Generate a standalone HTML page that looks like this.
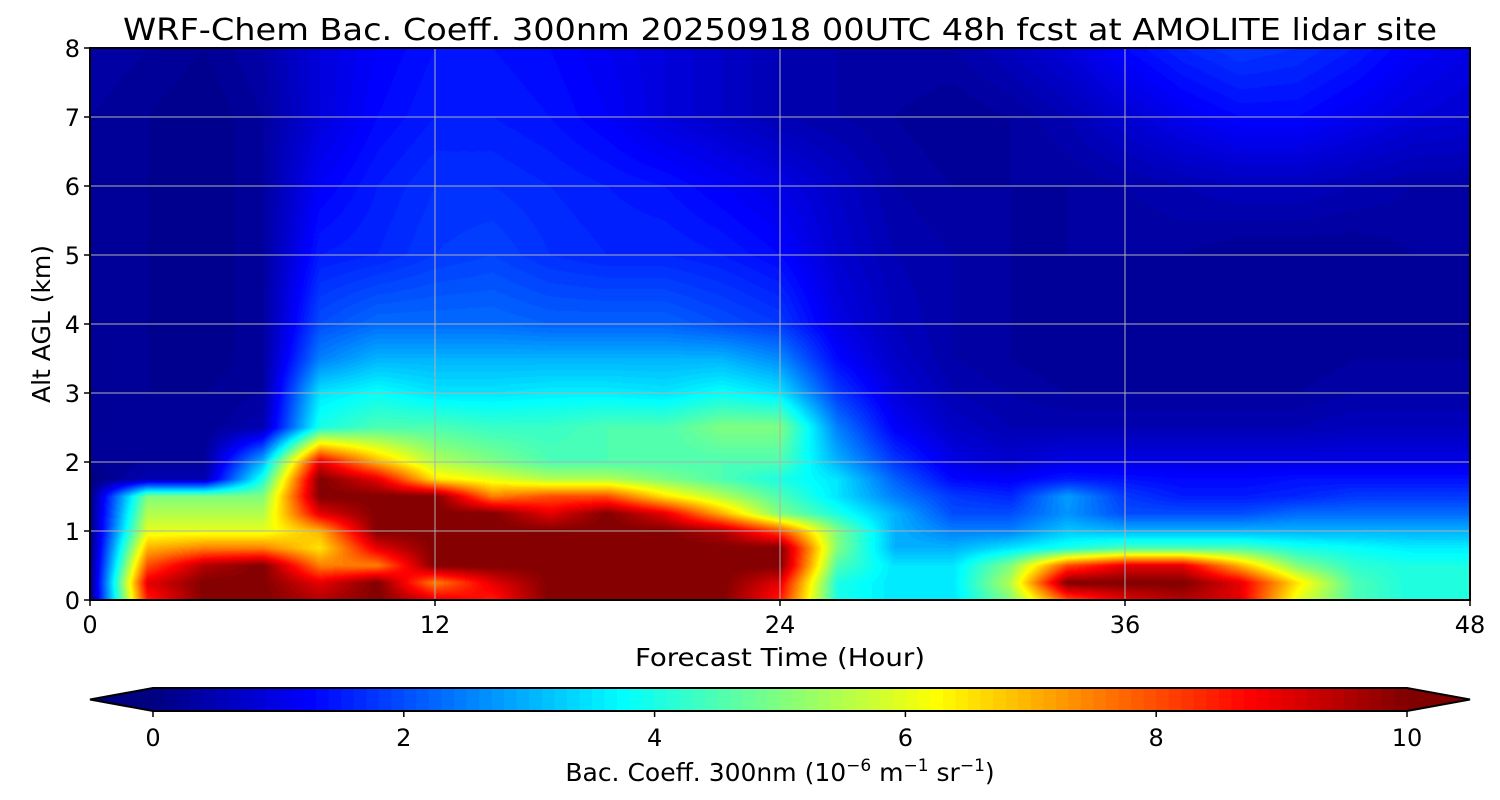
<!DOCTYPE html>
<html><head><meta charset="utf-8"><style>
body{margin:0;background:#fff;width:1500px;height:800px;overflow:hidden;font-family:"DejaVu Sans","Liberation Sans",sans-serif}
#wrap{position:relative;width:1500px;height:800px}
canvas{position:absolute;left:90px;top:48px}
svg{position:absolute;left:0;top:0}
</style></head><body><div id="wrap">
<canvas id="hm" width="1380" height="552"></canvas>
<svg id="ov" width="1500" height="800"></svg>
</div>
<script>
const hours=[0,2,4,6,8,10,12,14,16,18,20,22,24,26,28,30,32,34,36,38,40,42,44,46,48];
const alts=[0,0.25,0.5,0.75,1,1.25,1.5,1.75,2,2.5,3,3.5,4,5,6,7,8];
const values=[
[0,8.5,10,10,9.5,10,9,8.5,10,10,10,10,8.5,4,3.5,3.5,5,8,9,9.5,9,6,4.5,4,4],
[0,9,10,10,9,10,7.5,9,10,10,10,10,9,4,3.5,3.5,5.5,10,10,10,9,6.5,4.5,4,4],
[0,8,9.5,10,7.5,7.5,10,10,10,10,10,10,10,4.5,3.5,3.5,5,8,9,9,7,5,4.2,4,4],
[0,7,7.5,7.5,6.5,9,10,10,10,10,10,10,10,5,3,3,3.5,4,4.5,4.5,4.5,4,3.8,3.6,3.6],
[0,6,6,6,7,10,10,10,10,10,10,9.5,8,5,3,2.5,2.5,3.2,3,3,3,3,3,3,3],
[0,5.5,5.5,5.5,9,10,10,10,9,10,9,7,5,4,3,2,2,2.7,2,2,2,2.3,2.3,2.3,2.3],
[0,5,5,5,10,10,10,7.5,8,8,6.5,5.5,4.5,3.5,2.5,1.8,1.6,2.8,1.8,1.5,1.5,1.6,1.8,1.8,1.8],
[0,0.5,0.5,4,10,9,6.5,6,5.5,5.5,5,4.5,4,3.5,2.2,1.3,1.2,1.5,1.4,1.3,1.3,1.4,1.4,1.4,1.4],
[0.2,0.3,0.3,3,9,7,5.5,5,4.5,4.5,4.5,4.5,4.5,3,1.8,1,0.8,1,1,1,1,1,1,1,1],
[0.2,0.2,0.2,0.5,4,4.5,4.5,4.3,4.3,4.5,4.5,5,5,2.5,1.2,0.7,0.5,0.5,0.5,0.5,0.5,0.5,0.6,0.6,0.6],
[0.2,0.2,0.2,0.3,3.5,3.8,3.5,3.5,3.6,3.6,3.5,3.8,3.5,1.8,0.9,0.5,0.4,0.3,0.3,0.3,0.3,0.3,0.4,0.4,0.4],
[0.2,0.2,0.1,0.3,2.5,3,3,3,3,3,3,3,2.6,1.3,0.7,0.4,0.3,0.2,0.2,0.2,0.2,0.2,0.3,0.3,0.3],
[0.2,0.2,0.1,0.3,2,2.3,2.3,2.3,2.2,2.2,2.2,2,1.8,1,0.6,0.4,0.3,0.2,0.2,0.2,0.2,0.2,0.2,0.3,0.3],
[0.3,0.2,0.1,0.3,1.5,1.6,1.8,1.9,1.7,1.6,1.6,1.5,1.3,0.8,0.5,0.4,0.3,0.3,0.3,0.3,0.2,0.2,0.2,0.3,0.3],
[0.3,0.2,0.1,0.3,1.2,1.5,1.7,1.7,1.6,1.5,1.4,1.2,1,0.7,0.4,0.3,0.3,0.3,0.4,0.5,0.6,0.6,0.5,0.4,0.4],
[0.3,0.2,0.1,0.3,0.9,1.3,1.5,1.5,1.4,1.2,0.9,0.7,0.5,0.4,0.3,0.2,0.3,0.5,0.8,1.1,1.3,1.3,1.1,0.9,0.8],
[0.4,0.3,0.2,0.4,0.9,1.2,1.4,1.4,1.3,1.1,0.9,0.7,0.5,0.4,0.4,0.4,0.6,0.9,1.3,1.6,1.8,1.7,1.5,1.2,1]];
const xTicks=[0,12,24,36,48];
const yTicks=[0,1,2,3,4,5,6,7,8];
const cbTicks=[0,2,4,6,8,10];

const PX=90,PY=48,PW=1380,PH=552;
const xs=h=>PX+h/48*PW, ys=a=>PY+PH-a/8*PH;
function jet(t){t=Math.max(0,Math.min(1,t));const c=x=>Math.round(255*Math.max(0,Math.min(1,x)));
return [c(1.5-Math.abs(4*t-3)),c(1.5-Math.abs(4*t-2)),c(1.5-Math.abs(4*t-1))];}
function seg(arr,v){let i=0;while(i<arr.length-2&&v>arr[i+1])i++;return [i,(v-arr[i])/(arr[i+1]-arr[i])];}
const ctx=document.getElementById('hm').getContext('2d');
const img=ctx.createImageData(PW,PH);
for(let py=0;py<PH;py++){const a=(PH-py-0.5)/PH*8;const [j,fy]=seg(alts,a);
 for(let px=0;px<PW;px++){const h=(px+0.5)/PW*48;const [i,fx]=seg(hours,h);
  const v=(values[j][i]*(1-fx)+values[j][i+1]*fx)*(1-fy)+(values[j+1][i]*(1-fx)+values[j+1][i+1]*fx)*fy;
  const q=Math.floor(Math.min(v,9.999)/0.1)*0.1+0.05;const col=jet(q/10);
  const k=(py*PW+px)*4;img.data[k]=col[0];img.data[k+1]=col[1];img.data[k+2]=col[2];img.data[k+3]=255;}}
ctx.putImageData(img,0,0);
const svg=document.getElementById('ov');const NS='http://www.w3.org/2000/svg';
function mk(t,at,parent){const e=document.createElementNS(NS,t);for(const k in at)e.setAttribute(k,at[k]);(parent||svg).appendChild(e);return e;}
xTicks.forEach(h=>{const x=xs(h);
 const g=mk('line',{x1:x,x2:x,y1:PY,y2:PY+PH,stroke:'#b0b0b0','stroke-width':1});
 
 mk('line',{x1:x,x2:x,y1:PY+PH,y2:PY+PH+6,stroke:'#000','stroke-width':1.5});
 const t=mk('text',{x:x,y:633,'text-anchor':'middle','font-size':24});t.textContent=h;
 });
yTicks.forEach(a=>{const y=ys(a);
 const g=mk('line',{x1:PX,x2:PX+PW,y1:y,y2:y,stroke:'#b0b0b0','stroke-width':1});
 
 mk('line',{x1:PX-6,x2:PX,y1:y,y2:y,stroke:'#000','stroke-width':1.5});
 const t=mk('text',{x:80,y:y+9,'text-anchor':'end','font-size':24});t.textContent=a;
 });
mk('rect',{x:PX,y:PY,width:PW,height:PH,fill:'none',stroke:'#000','stroke-width':2,});
const CX0=153,CX1=1407,CY=688,CH=23;const cbx=v=>CX0+v/10*(CX1-CX0);
mk('polygon',{points:`${CX0},${CY} 90,${CY+CH/2} ${CX0},${CY+CH}`,fill:'rgb('+jet(0)+')',});
mk('polygon',{points:`${CX1},${CY} 1470,${CY+CH/2} ${CX1},${CY+CH}`,fill:'rgb('+jet(1)+')',});
for(let k=0;k<100;k++){const v=k*0.1;const r=mk('rect',{x:cbx(v),y:CY,width:cbx(v+0.1)-cbx(v)+0.5,height:CH,fill:'rgb('+jet((v+0.05)/10)+')'});
 }
mk('polygon',{points:`90,${CY+CH/2} ${CX0},${CY} ${CX1},${CY} 1470,${CY+CH/2} ${CX1},${CY+CH} ${CX0},${CY+CH}`,fill:'none',stroke:'#000','stroke-width':2,});
cbTicks.forEach(v=>{const x=cbx(v);mk('line',{x1:x,x2:x,y1:CY+CH,y2:CY+CH+6,stroke:'#000','stroke-width':1.5});
 const t=mk('text',{x:x,y:746,'text-anchor':'middle','font-size':24});t.textContent=v;
 });
</script>
<svg width="1500" height="800" style="position:absolute;left:0;top:0">
<text x="780" y="40" text-anchor="middle" font-size="30" textLength="1314" lengthAdjust="spacingAndGlyphs">WRF-Chem Bac. Coeff. 300nm  20250918 00UTC 48h fcst at AMOLITE lidar site</text>
<text x="780" y="666" text-anchor="middle" font-size="25" textLength="290" lengthAdjust="spacingAndGlyphs">Forecast Time (Hour)</text>
<text transform="translate(50,324) rotate(-90)" text-anchor="middle" font-size="25">Alt AGL (km)</text>
<text x="780" y="781" text-anchor="middle" font-size="25">Bac. Coeff. 300nm  (10<tspan dy="-10" font-size="17">−6</tspan><tspan dy="10"> m</tspan><tspan dy="-10" font-size="17">−1</tspan><tspan dy="10"> sr</tspan><tspan dy="-10" font-size="17">−1</tspan><tspan dy="10">)</tspan></text>
</svg>
</body></html>
